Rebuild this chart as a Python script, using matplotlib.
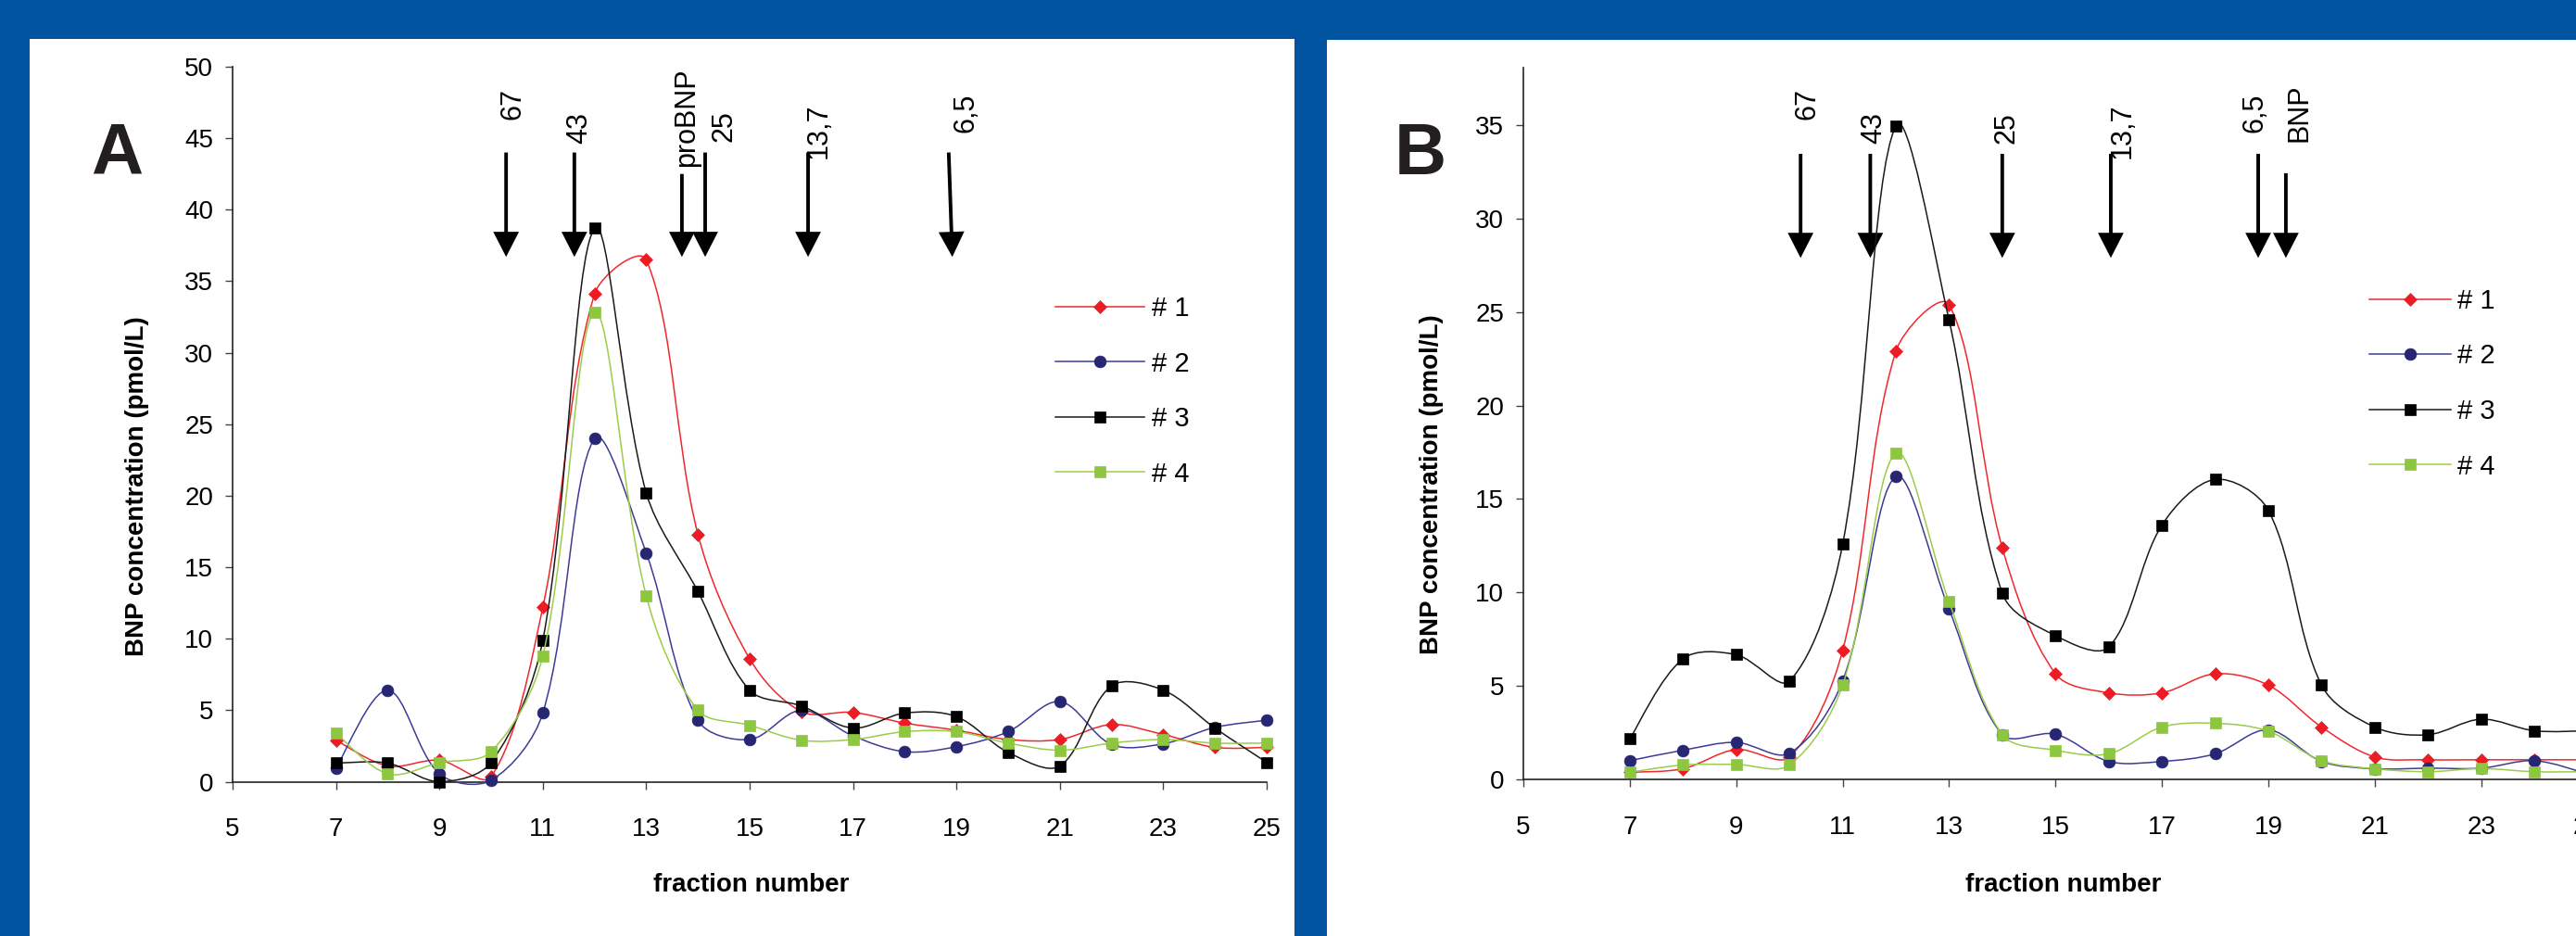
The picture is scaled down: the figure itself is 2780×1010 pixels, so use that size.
import matplotlib
matplotlib.use('Agg')
import matplotlib.pyplot as plt
import numpy as np
from matplotlib.path import Path
from matplotlib.patches import PathPatch, Rectangle
from matplotlib.lines import Line2D

plt.rcParams['font.family'] = ['Liberation Sans', 'DejaVu Sans']

# fraction numbers
fractions = np.arange(7, 26)

# panel A, BNP concentration (pmol/L)
a1 = [2.9, 1.1, 1.5, 0.35, 12.2, 34.1, 36.5, 17.3, 8.6, 4.9, 4.85, 4.1, 3.6, 2.95, 2.95, 4.0, 3.3, 2.4, 2.4]
a2 = [0.95, 6.4, 0.55, 0.1, 4.8, 24.0, 16.0, 4.3, 2.95, 5.0, 3.2, 2.1, 2.45, 3.5, 5.6, 2.6, 2.65, 3.8, 4.3]
a3 = [1.3, 1.3, 0.0, 1.35, 9.9, 38.7, 20.2, 13.3, 6.4, 5.3, 3.75, 4.8, 4.55, 2.05, 1.1, 6.7, 6.4, 3.75, 1.35]
a4 = [3.4, 0.55, 1.33, 2.1, 8.8, 32.8, 13.0, 5.0, 3.95, 2.9, 2.95, 3.5, 3.5, 2.7, 2.2, 2.7, 2.95, 2.7, 2.7]

# panel B
b1 = [0.38, 0.57, 1.6, 1.2, 6.9, 22.9, 25.4, 12.4, 5.65, 4.63, 4.63, 5.65, 5.04, 2.8, 1.2, 1.05, 1.05, 1.05, 1.05]
b2 = [1.0, 1.56, 1.98, 1.4, 5.26, 16.2, 9.1, 2.4, 2.42, 0.96, 0.96, 1.37, 2.65, 0.96, 0.57, 0.6, 0.6, 1.0, 0.3]
b3 = [2.17, 6.45, 6.67, 5.26, 12.57, 34.97, 24.57, 9.96, 7.69, 7.08, 13.6, 16.05, 14.4, 5.04, 2.8, 2.39, 3.22, 2.6, 2.6]
b4 = [0.38, 0.77, 0.8, 0.77, 5.04, 17.45, 9.5, 2.4, 1.56, 1.37, 2.8, 3.0, 2.58, 1.0, 0.57, 0.41, 0.58, 0.41, 0.41]

series_labels = ['# 1', '# 2', '# 3', '# 4']

# molecular weight markers (kDa) on top of each panel
marks_a = ['67', '43', 'proBNP', '25', '13,7', '6,5']
arrow_a_x = [10.29, 11.61, 13.69, 14.14, 16.13, 18.85]
arrow_a_tip_x = [10.29, 11.61, 13.69, 14.14, 16.13, 18.92]
arrow_a_top = [44.0, 44.0, 42.5, 44.0, 44.0, 44.0]
label_a_x = [10.43, 11.70, 13.78, 14.50, 16.33, 19.18]
label_a_y = [46.3, 44.65, 43.0, 44.77, 43.6, 45.4]

marks_b = ['67', '43', '25', '13,7', '6,5', 'BNP']
arrow_b_x = [10.21, 11.52, 14.0, 16.04, 18.81, 19.33]
arrow_b_top = [33.47, 33.47, 33.47, 33.47, 33.47, 32.43]
label_b_x = [10.33, 11.58, 14.08, 16.26, 18.74, 19.59]
label_b_y = [35.3, 34.0, 34.0, 33.2, 34.6, 34.1]

line_colors = ['#f0282d', '#3c3c96', '#1a1a1a', '#9ccc4c']
marker_colors = ['#ed1c24', '#262673', '#000000', '#8dc63f']
markers = ['D', 'o', 's', 's']
marker_sizes = [6.8, 9.2, 8.8, 8.8]

W, H = 2780, 1010
fig = plt.figure(figsize=(W / 100, H / 100), dpi=100)
fig.patch.set_facecolor('#0054a0')

# white panels
fig.add_artist(Rectangle((32 / W, 0), 1365 / W, (H - 42) / H, transform=fig.transFigure,
                         facecolor='white', edgecolor='none', zorder=-10))
fig.add_artist(Rectangle((1432 / W, 0), 1348 / W, (H - 43) / H, transform=fig.transFigure,
                         facecolor='white', edgecolor='none', zorder=-10))


def smooth_path(ax, x, y):
    # smoothed line like the spreadsheet chart: bezier through every point,
    # handles weighted by the on-screen segment lengths
    pts = ax.transData.transform(np.column_stack([x, y]).astype(float))
    n = len(pts)
    tang = np.zeros_like(pts)
    d = np.hypot(*np.diff(pts, axis=0).T)
    for i in range(n):
        a = pts[max(i - 1, 0)]
        b = pts[min(i + 1, n - 1)]
        tang[i] = b - a
    verts = [pts[0]]
    codes = [Path.MOVETO]
    for i in range(n - 1):
        d0 = d[i - 1] if i > 0 else d[i]
        d2 = d[i + 1] if i < n - 2 else d[i]
        c1 = pts[i] + tang[i] / 3 * d[i] / (d0 + d[i])
        c2 = pts[i + 1] - tang[i + 1] / 3 * d[i] / (d[i] + d2)
        verts += [c1, c2, pts[i + 1]]
        codes += [Path.CURVE4] * 3
    verts = ax.transData.inverted().transform(np.array(verts))
    return Path(verts, codes)


def draw_panel(rect, data, ylim, yticks, marks, ax_x, tip_x, tops, tip, lab_x, lab_y,
               ylab_xy, xlab_xy, legend_xy, handle_len):
    ax = fig.add_axes(rect)
    ax.set_facecolor('none')
    ax.set_xlim(5, 25)
    ax.set_ylim(*ylim)
    for k, ys in enumerate(data):
        z = 3 + k
        ax.add_patch(PathPatch(smooth_path(ax, fractions, ys), fill=False,
                               edgecolor=line_colors[k], lw=1.1, zorder=z, clip_on=False))
        ax.plot(fractions, ys, linestyle='none', marker=markers[k], ms=marker_sizes[k],
                mfc=marker_colors[k], mec=marker_colors[k], mew=0.5, zorder=z + 0.5, clip_on=False)
    ax.set_xlim(5, 25)
    ax.set_ylim(*ylim)
    ax.set_xticks(np.arange(5, 26, 2))
    ax.set_yticks(yticks)
    for s in ['top', 'right']:
        ax.spines[s].set_visible(False)
    for s in ['left', 'bottom']:
        ax.spines[s].set_color('#222222')
        ax.spines[s].set_linewidth(1.2)
    ax.tick_params(axis='both', direction='out', length=6, width=1, color='#444444', labelsize=20)
    ax.tick_params(axis='x', pad=22)
    ax.tick_params(axis='y', pad=9)

    for i, t in enumerate(marks):
        ax.annotate('', xy=(tip_x[i], tip), xytext=(ax_x[i], tops[i]),
                    arrowprops=dict(width=2.8, headwidth=20, headlength=19.5, shrink=0,
                                    facecolor='black', edgecolor='none'),
                    annotation_clip=False)
        ax.text(lab_x[i], lab_y[i], t, rotation=90, ha='center', va='bottom', fontsize=22,
                color='black')

    ax.set_ylabel('BNP concentration (pmol/L)', fontsize=20, fontweight='bold')
    ax.yaxis.set_label_coords(*ylab_xy)
    ax.set_xlabel('fraction number', fontsize=20, fontweight='bold')
    ax.xaxis.set_label_coords(*xlab_xy)

    handles = [Line2D([], [], color=line_colors[k], lw=1.1, marker=markers[k], ms=marker_sizes[k],
                      mfc=marker_colors[k], mec=marker_colors[k], mew=0.5) for k in range(4)]
    ax.legend(handles, series_labels, loc='upper left',
              bbox_to_anchor=(legend_xy[0] / W, 1 - legend_xy[1] / H),
              bbox_transform=fig.transFigure, frameon=False, borderpad=0, borderaxespad=0,
              handlelength=handle_len, handletextpad=0.27, labelspacing=1.08, fontsize=21,
              numpoints=1)
    return ax


ax_a = draw_panel([251 / W, (H - 843.5) / H, 1116 / W, 771.5 / H], [a1, a2, a3, a4],
                  (0, 50), np.arange(0, 51, 5), marks_a, arrow_a_x, arrow_a_tip_x, arrow_a_top, 36.7,
                  label_a_x, label_a_y, (-0.0806, 0.4128), (0.5018, -0.1277), (1139, 319), 3.3)
ax_b = draw_panel([1644 / W, (H - 841) / H, 1148.5 / W, 768 / H], [b1, b2, b3, b4],
                  (0, 38.08), np.arange(0, 36, 5), marks_b, arrow_b_x, arrow_b_x, arrow_b_top, 27.9,
                  label_b_x, label_b_y, (-0.0749, 0.414), (0.5076, -0.1315), (2557, 311), 3.0)

fig.text(98 / W, 1 - 188 / H, 'A', fontsize=56, fontweight='bold', color='#231f20',
         ha='left', va='baseline')
fig.text(1505 / W, 1 - 188 / H, 'B', fontsize=56, fontweight='bold', color='#231f20',
         ha='left', va='baseline')

fig.savefig('out.png', dpi=100, facecolor=fig.get_facecolor())
